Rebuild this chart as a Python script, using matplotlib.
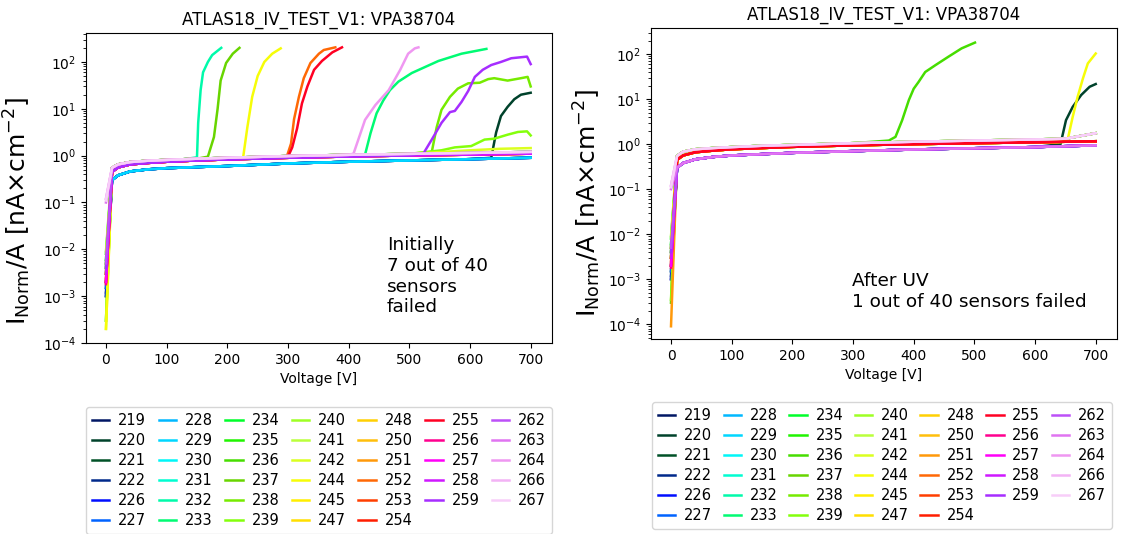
import numpy as np
import matplotlib.pyplot as plt

sensors = [219, 220, 221, 222, 226, 227, 228, 229, 230, 231, 232, 233, 234, 235,
           236, 237, 238, 239, 240, 241, 242, 244, 245, 247, 248, 250, 251, 252,
           253, 254, 255, 256, 257, 258, 259, 262, 263, 264, 266, 267]

# common voltage steps of the "healthy" curves
volt_base = [0, 10, 20, 40, 70, 100, 150, 200, 300, 400, 500, 600, 650, 700]

# ---- initial measurement ----
init_low = [0.30, 0.38, 0.46, 0.51, 0.54, 0.57, 0.60, 0.68, 0.74, 0.79, 0.84, 0.87, 0.90]
init_mid = [0.45, 0.56, 0.65, 0.70, 0.74, 0.79, 0.83, 0.90, 0.96, 1.01, 1.05, 1.08, 1.10]
init_high = [0.55, 0.65, 0.73, 0.78, 0.81, 0.86, 0.90, 0.98, 1.04, 1.09, 1.14, 1.17, 1.20]
init_band = ['low'] * 8 + ['mid'] * 3 + ['high'] * 8 + ['mid', 'high'] + ['mid'] * 14 + ['high'] * 5
init_start = [1e-3, 1.5e-3, 2e-3, 1.2e-3, 1e-3, 1.5e-3, 3e-3, 4e-3, 5e-3, 6e-3,
              8e-3, 4e-3, 3e-3, 5e-3, 3e-4, 6e-3, 4e-3, 3e-4, 9e-3, 8e-3,
              2e-4, 2e-4, 3e-3, 4e-3, 5e-3, 3e-3, 2e-3, 3e-3, 2.5e-3, 2e-3,
              2e-3, 1.8e-3, 2e-3, 3e-3, 4e-3, 5e-3, 0.1, 0.12, 0.12, 0.11]

init_232_v = [150, 152, 156, 160, 168, 175, 190]
init_232_i = [0.92, 5, 25, 60, 100, 140, 200]
init_237_v = [168, 178, 184, 189, 198, 209, 220]
init_237_i = [0.95, 2.5, 10, 40, 95, 150, 200]
init_244_v = [226, 233, 241, 250, 261, 274, 288]
init_244_i = [0.9, 4, 18, 50, 100, 150, 195]
init_252_v = [298, 305, 310, 318, 326, 337, 351, 359, 378]
init_252_i = [0.95, 1.8, 6, 18, 45, 95, 150, 180, 205]
init_255_v = [300, 307, 315, 323, 332, 343, 356, 373, 389]
init_255_i = [0.95, 1.5, 3.8, 13, 30, 68, 105, 160, 205]
init_264_v = [408, 427, 444, 466, 485, 498, 509, 515]
init_264_i = [1.1, 5.8, 12, 25, 68, 150, 195, 205]
init_233_v = [427, 436, 446, 457, 468, 482, 504, 548, 586, 627]
init_233_i = [1.05, 3, 8, 15, 25, 38, 58, 105, 150, 190]
init_238_v = [537, 545, 553, 567, 580, 597, 616, 630, 640, 662, 684, 695, 700]
init_238_i = [1.2, 4, 9.5, 18, 27, 35, 36, 43, 45, 40, 45, 48, 30]
init_259_v = [523, 537, 553, 567, 575, 586, 597, 608, 621, 635, 651, 668, 694, 700]
init_259_i = [1.1, 2.2, 5, 8.5, 9, 14, 24, 48, 68, 86, 100, 120, 130, 90]
init_220_v = [635, 643, 651, 662, 673, 684, 700]
init_220_i = [0.9, 3.1, 7, 11, 16, 20, 22]
init_239_v = [553, 575, 602, 624, 640, 662, 679, 694, 700]
init_239_i = [1.3, 1.5, 1.6, 2.2, 2.3, 2.8, 3.2, 3.3, 2.7]
init_242_v = [600, 650, 700]
init_242_i = [1.3, 1.4, 1.45]

# ---- after UV ----
uv_low = [0.30, 0.38, 0.46, 0.52, 0.56, 0.60, 0.64, 0.70, 0.76, 0.81, 0.86, 0.90, 0.94]
uv_mid = [0.45, 0.56, 0.66, 0.72, 0.77, 0.82, 0.87, 0.94, 1.00, 1.05, 1.10, 1.13, 1.16]
uv_high = [0.55, 0.68, 0.77, 0.82, 0.86, 0.92, 0.96, 1.05, 1.13, 1.20, 1.27, 1.32, 1.75]
uv_band = ['low'] * 8 + ['mid'] * 4 + ['high'] * 7 + ['mid'] * 12 + ['low'] * 6 + ['high'] * 3
uv_start = [1e-3, 1.5e-3, 2e-3, 1.2e-3, 1e-3, 1.5e-3, 3e-3, 4e-3, 5e-3, 6e-3,
            8e-3, 4e-3, 3e-3, 5e-3, 3e-4, 6e-3, 4e-3, 3.5e-4, 9e-3, 8e-3,
            5e-3, 3e-3, 3e-3, 4e-3, 5e-3, 3e-3, 9e-5, 3e-3, 2.5e-3, 2e-3,
            2e-3, 1.8e-3, 2e-3, 3e-3, 4e-3, 5e-3, 0.1, 0.12, 0.12, 0.11]

uv_236_v = [359, 370, 381, 392, 400, 408, 419, 436, 457, 479, 501]
uv_236_i = [1.2, 1.45, 3.4, 9.5, 17, 24, 40, 57, 87, 134, 180]
uv_220_v = [642, 651, 662, 676, 690, 700]
uv_220_i = [1.0, 3.4, 6.7, 12.3, 18.8, 21.6]
uv_244_v = [654, 662, 670, 679, 687, 700]
uv_244_i = [1.3, 4, 11, 29, 62, 103]

init_bands = {'low': init_low, 'mid': init_mid, 'high': init_high}
uv_bands = {'low': uv_low, 'mid': uv_mid, 'high': uv_high}
init_bd = {232: (init_232_v, init_232_i), 237: (init_237_v, init_237_i),
           244: (init_244_v, init_244_i), 252: (init_252_v, init_252_i),
           255: (init_255_v, init_255_i), 264: (init_264_v, init_264_i),
           233: (init_233_v, init_233_i), 238: (init_238_v, init_238_i),
           259: (init_259_v, init_259_i), 220: (init_220_v, init_220_i),
           239: (init_239_v, init_239_i), 242: (init_242_v, init_242_i)}
uv_bd = {236: (uv_236_v, uv_236_i), 220: (uv_220_v, uv_220_i),
         244: (uv_244_v, uv_244_i)}

colors = plt.cm.gist_ncar((np.arange(len(sensors)) + 0.5) / 41)


def build_curve(k, starts, bands, band_of, breakdowns):
    base = [starts[k]] + bands[band_of[k]]
    s = sensors[k]
    if s not in breakdowns:
        return volt_base, base
    bv, bi = breakdowns[s]
    keep = [j for j, v in enumerate(volt_base) if v < bv[0]]
    return [volt_base[j] for j in keep] + bv, [base[j] for j in keep] + bi


def draw_panel(ax, starts, bands, band_of, breakdowns, note, note_xy, leg_anchor, ylab_xy):
    for k, s in enumerate(sensors):
        v, i = build_curve(k, starts, bands, band_of, breakdowns)
        ax.plot(v, i, color=colors[k], lw=1.8, label=str(s))
    ax.set_yscale('log')
    ax.set_xlim(-33, 735)
    ax.set_title('ATLAS18_IV_TEST_V1: VPA38704', fontsize=12)
    ax.set_xlabel('Voltage [V]', fontsize=10)
    ax.set_ylabel(r'$\mathrm{I_{Norm}/A\ [nA{\times}cm^{-2}]}$', fontsize=18)
    ax.yaxis.set_label_coords(*ylab_xy)
    ax.tick_params(labelsize=10)
    ax.text(note_xy[0], note_xy[1], note, transform=ax.transAxes,
            fontsize=13.3, va='top', ha='left')
    ax.legend(loc='upper left', bbox_to_anchor=leg_anchor, mode='expand',
              ncol=7, fontsize=10.5, borderaxespad=0, handlelength=1.2,
              handletextpad=0.6, labelspacing=0.35)


fig = plt.figure(figsize=(11.22, 5.34), dpi=100)
ax1 = fig.add_axes([0.0766, 0.3577, 0.4153, 0.5805])
ax2 = fig.add_axes([0.5802, 0.3652, 0.4153, 0.5824])

draw_panel(ax1, init_start, init_bands, init_band, init_bd,
           'Initially\n7 out of 40\nsensors\nfailed', (0.646, 0.345),
           (0, -0.206, 1, 0), (-0.114, 0.426))
ax1.set_ylim(1e-4, 415)

draw_panel(ax2, uv_start, uv_bands, uv_band, uv_bd,
           'After UV\n1 out of 40 sensors failed', (0.431, 0.215),
           (0.002, -0.203, 0.987, 0), (-0.103, 0.437))
ax2.set_ylim(4.7e-5, 380)

fig.savefig('out.png', dpi=100)
